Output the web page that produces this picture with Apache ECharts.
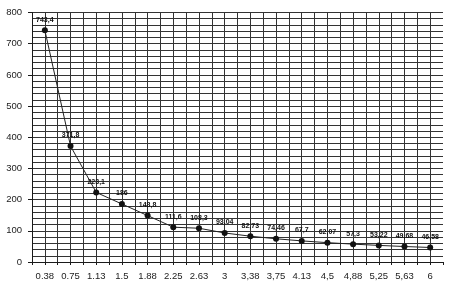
<!DOCTYPE html>
<html><head><meta charset="utf-8">
<script src="https://cdn.jsdelivr.net/npm/echarts@6/dist/echarts.min.js"></script>
<style>html,body{margin:0;padding:0;background:#fff}#c{width:453px;height:287px}</style>
</head><body><div id="c"></div>
<script>
const categories = ['0.38','0.75','1.13','1.5','1.88','2.25','2.63','3','3,38','3,75','4.13','4,5','4,88','5,25','5,63','6'];
const values = [743.4, 371.8, 223.1, 186, 148.8, 111.6, 108.3, 93.04, 82.73, 74.46, 67.7, 62.07, 57.3, 53.22, 49.68, 46.58];
const yTickLabels = ['0','100','200','300','400','500','600','700','800'];

const ink = '#1a1a1a';
const chart = echarts.init(document.getElementById('c'), null, {renderer: 'canvas'});
chart.setOption({
  animation: false,
  backgroundColor: '#fff',
  grid: {left: 32, right: 10, top: 12.5, bottom: 25, containLabel: false, outerBoundsMode: 'none'},
  xAxis: [
    {
      type: 'category', data: categories, boundaryGap: true, position: 'bottom',
      axisLine: {show: true, lineStyle: {color: ink, width: 1}},
      axisTick: {show: false},
      axisLabel: {color: '#222', fontSize: 9.5, fontFamily: 'Liberation Sans, Arial, sans-serif', margin: 9, interval: 0},
      splitLine: {show: false}
    },
    {
      type: 'value', min: 0, max: categories.length, interval: 0.5, position: 'bottom',
      axisLine: {show: false},
      axisTick: {show: true, length: 3, lineStyle: {color: ink}},
      axisLabel: {show: false},
      splitLine: {show: true, showMaxLine: false, lineStyle: {color: '#333', width: 1}}
    }
  ],
  yAxis: [
    {
      type: 'value', min: 0, max: 800, interval: 20, position: 'left',
      axisLine: {show: true, lineStyle: {color: ink, width: 1}},
      axisTick: {show: false},
      axisLabel: {show: false},
      splitLine: {show: true, lineStyle: {color: '#333', width: 1}}
    },
    {
      type: 'value', min: 0, max: 800, interval: 100, position: 'left',
      axisLine: {show: false},
      axisTick: {show: true, length: 4, lineStyle: {color: ink}},
      axisLabel: {
        show: true, color: '#222', fontSize: 9.5, margin: 10,
        fontFamily: 'Liberation Sans, Arial, sans-serif',
        formatter: (v) => yTickLabels[Math.round(v / 100)]
      },
      splitLine: {show: false}
    }
  ],
  series: [{
    type: 'line', data: values, xAxisIndex: 0, yAxisIndex: 0,
    symbol: 'circle', symbolSize: 6,
    itemStyle: {color: '#111'},
    lineStyle: {color: '#222', width: 1},
    label: {
      show: true, position: 'top', distance: 4,
      fontSize: 7, fontWeight: 'bold', color: '#111',
      fontFamily: 'Liberation Sans, Arial, sans-serif',
      formatter: (p) => String(p.value).replace('.', ',')
    }
  }]
});
</script></body></html>
